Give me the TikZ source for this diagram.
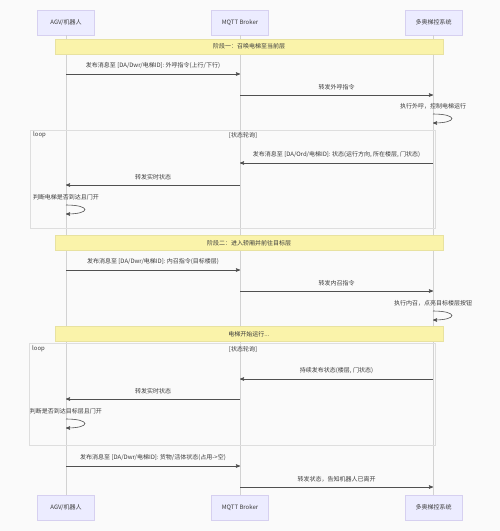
\documentclass[tikz,border=0pt]{standalone}
\usepackage{fontspec}
\setmainfont{Noto Sans CJK SC}
\usetikzlibrary{calc,positioning}
\usetikzlibrary{arrows}

\definecolor{actorfill}{RGB}{236,236,255}
\definecolor{actorline}{RGB}{214,208,240}
\definecolor{notefill}{RGB}{250,243,170}
\definecolor{noteline}{RGB}{232,226,160}
\definecolor{lifegray}{RGB}{210,210,210}
\definecolor{framegray}{RGB}{222,222,222}
\definecolor{msggray}{RGB}{80,80,80}
\definecolor{textgray}{RGB}{60,60,60}

\begin{document}
\begin{tikzpicture}[>=stealth',x=1pt,y=-1pt,
		font=\fontsize{6}{7}\selectfont, text=textgray,
		actor/.style={draw=actorline,fill=actorfill,minimum width=57pt,minimum height=25pt,inner sep=1pt},
		phase/.style={draw=noteline,fill=notefill,minimum width=388pt,minimum height=15pt,inner sep=1pt},
		msg/.style={->,draw=msggray,line width=0.6pt},
		life/.style={draw=lifegray,line width=0.5pt},
		loopframe/.style={draw=framegray,line width=0.6pt},
		lbl/.style={inner sep=1pt}]
		\fill[black!2] (0,0) rectangle (500,531);
		\useasboundingbox (0,0) rectangle (500,531);

		% participants
		\node[actor] (agvT) at (66,22.5) {AGV/机器人};
		\node[actor] (mqT) at (240,22.5) {MQTT Broker};
		\node[actor] (elT) at (433.5,22.5) {多奥梯控系统};
		\node[actor] (agvB) at (66,507.5) {AGV/机器人};
		\node[actor] (mqB) at (240,507.5) {MQTT Broker};
		\node[actor] (elB) at (433.5,507.5) {多奥梯控系统};

		\draw[life] (agvT) -- (agvB);
		\draw[life] (mqT) -- (mqB);
		\draw[life] (elT) -- (elB);

		% loop frames
		\draw[loopframe] (30,130) rectangle (435,228);
		\draw[loopframe] (29,343) rectangle (435,445);
		\node[lbl,anchor=west] (loopA) at (32,135) {loop};
		\node[lbl] (condA) at (243,135) {[状态轮询]};
		\node[lbl,anchor=west] (loopB) at (31,349) {loop};
		\node[lbl] (condB) at (243,349) {[状态轮询]};

		% phase notes
		\node[phase] (ph1) at (249,46.5) {阶段一：召唤电梯至当前层};
		\node[phase] (ph2) at (249,243) {阶段二：进入轿厢并前往目标层};
		\node[phase] (ph3) at (249,334) {电梯开始运行...};

		% points on the lifelines
		\foreach \n/\y in {1/74,2/95,3/114,4/163,5/185,6/205,7/270,8/291,9/311,
				10/379,11/399,12/419,13/466,14/487}{
			\coordinate (a\n) at (66,\y);
			\coordinate (m\n) at (240,\y);
			\coordinate (d\n) at (433,\y);
			\coordinate (a\n') at (66,\y+9);
			\coordinate (d\n') at (433,\y+9);
		}

		% phase 1
		\draw[msg] (a1) -- node[lbl,above=4pt] {发布消息至 [DA/Dwr/电梯ID]: 外呼指令(上行/下行)} (m1);
		\draw[msg] (m2) -- node[lbl,above=4pt] {转发外呼指令} (d2);
		\node[lbl,above=4pt] (t3) at (d3) {执行外呼，控制电梯运行};
		\draw[msg] (d3) .. controls +(25,0) and +(25,0) .. (d3');
		\draw[msg] (d4) -- node[lbl,above=4pt] {发布消息至 [DA/Ord/电梯ID]: 状态(运行方向, 所在楼层, 门状态)} (m4);
		\draw[msg] (m5) -- node[lbl,above=4pt] {转发实时状态} (a5);
		\node[lbl,above=4pt] (t6) at (a6) {判断电梯是否到达且门开};
		\draw[msg] (a6) .. controls +(25,0) and +(25,0) .. (a6');

		% phase 2
		\draw[msg] (a7) -- node[lbl,above=4pt] {发布消息至 [DA/Dwr/电梯ID]: 内召指令(目标楼层)} (m7);
		\draw[msg] (m8) -- node[lbl,above=4pt] {转发内召指令} (d8);
		\node[lbl,above=4pt] (t9) at (d9) {执行内召，点亮目标楼层按钮};
		\draw[msg] (d9) .. controls +(25,0) and +(25,0) .. (d9');
		\draw[msg] (d10) -- node[lbl,above=4pt] {持续发布状态(楼层, 门状态)} (m10);
		\draw[msg] (m11) -- node[lbl,above=4pt] {转发实时状态} (a11);
		\node[lbl,above=4pt] (t12) at (a12) {判断是否到达目标层且门开};
		\draw[msg] (a12) .. controls +(25,0) and +(25,0) .. (a12');
		\draw[msg] (a13) -- node[lbl,above=4pt] {发布消息至 [DA/Dwr/电梯ID]: 货物/活体状态(占用->空)} (m13);
		\draw[msg] (m14) -- node[lbl,above=4pt] {转发状态，告知机器人已离开} (d14);
	\end{tikzpicture}
\end{document}
